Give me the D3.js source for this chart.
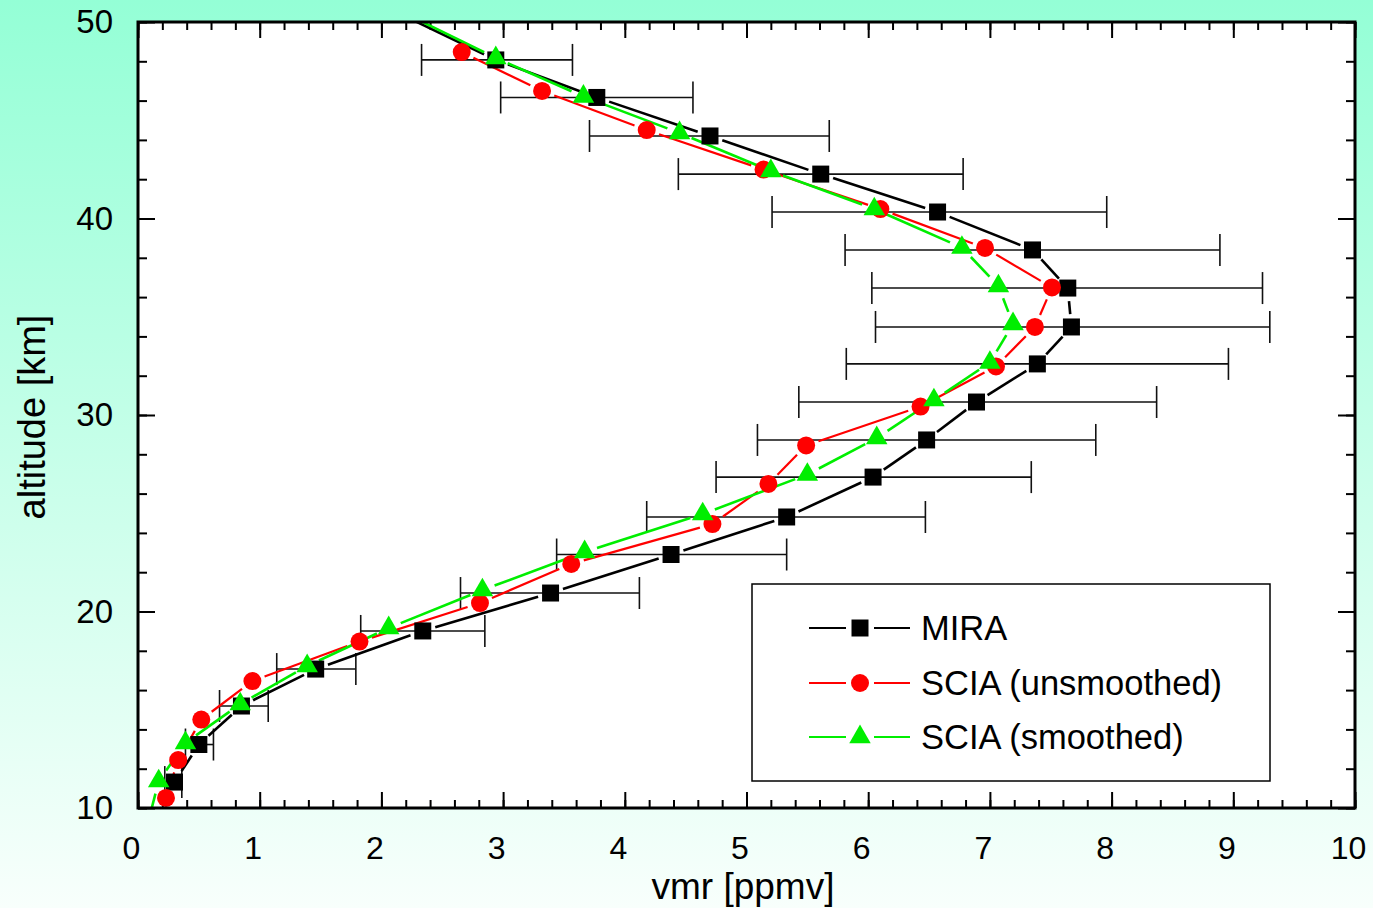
<!DOCTYPE html>
<meta charset="utf-8">
<head>
<title>MIRA vs SCIA profile</title>
<script src="https://cdn.jsdelivr.net/npm/d3@7"></script>
<style>
  body { margin: 0; }
  text { font-family: "Liberation Sans", Arial, sans-serif; fill: #000; }
  .axis path { display: none; }
  .axis line { stroke: #000; stroke-width: 2; }
</style>
</head>
<body>
<div id="chart"></div>
<script>
// MIRA profile with error range (vmr in ppmv, altitude in km)
// the point above 50 km only carries the line out of the frame
var miraAlt = [52.0, 48.07, 46.16, 44.20, 42.26, 40.33, 38.40, 36.46, 34.48, 32.60, 30.66,
               28.73, 26.84, 24.81, 22.90, 20.94, 19.01, 17.07, 15.19, 13.23, 11.32];
var miraVmr = [1.62, 2.94, 3.77, 4.70, 5.61, 6.57, 7.35, 7.64, 7.67, 7.39, 6.89,
               6.48, 6.04, 5.33, 4.38, 3.39, 2.34, 1.46, 0.85, 0.50, 0.30];
var miraLo  = [null, 2.33, 2.98, 3.71, 4.44, 5.21, 5.81, 6.03, 6.06, 5.82, 5.43,
               5.09, 4.75, 4.18, 3.44, 2.65, 1.83, 1.14, 0.67, 0.39, 0.22];
var miraHi  = [null, 3.57, 4.56, 5.68, 6.78, 7.96, 8.89, 9.24, 9.30, 8.96, 8.37,
               7.87, 7.34, 6.47, 5.33, 4.12, 2.85, 1.79, 1.07, 0.62, 0.36];

// SCIA unsmoothed
var sciaAlt = [48.47, 46.49, 44.50, 42.49, 40.48, 38.50, 36.49, 34.48, 32.47, 30.43,
               28.45, 26.49, 24.45, 22.42, 20.43, 18.47, 16.46, 14.50, 12.44, 10.51];
var sciaVmr = [2.66, 3.32, 4.18, 5.14, 6.10, 6.96, 7.51, 7.37, 7.05, 6.43,
               5.49, 5.18, 4.72, 3.56, 2.81, 1.82, 0.94, 0.52, 0.33, 0.23];

// SCIA smoothed (end points outside the frame)
var smoAlt = [52.0, 48.17, 46.21, 44.35, 42.42, 40.48, 38.52, 36.56, 34.63, 32.67, 30.76,
              28.83, 26.97, 24.96, 23.03, 21.09, 19.16, 17.23, 15.29, 13.31, 11.37, 9.2];
var smoVmr = [1.68, 2.94, 3.66, 4.45, 5.20, 6.05, 6.77, 7.07, 7.19, 7.00, 6.54,
              6.07, 5.50, 4.64, 3.67, 2.83, 2.06, 1.39, 0.84, 0.39, 0.17, 0.08];

var legendNames = ["MIRA", "SCIA (unsmoothed)", "SCIA (smoothed)"];

var W = 1373, H = 908;
var x0 = 138, x1 = 1355, yTop = 22, yBot = 808;

var svg = d3.select("#chart").append("svg")
    .attr("width", W).attr("height", H);

var defs = svg.append("defs");
var grad = defs.append("linearGradient").attr("id", "bg")
    .attr("x1", 0).attr("y1", 0).attr("x2", 0).attr("y2", 1);
grad.append("stop").attr("offset", "0%").attr("stop-color", "#94ffd6");
grad.append("stop").attr("offset", "100%").attr("stop-color", "#f8fffc");
defs.append("clipPath").attr("id", "clip").append("rect")
    .attr("x", x0).attr("y", yTop).attr("width", x1 - x0).attr("height", yBot - yTop);

svg.append("rect").attr("width", W).attr("height", H).attr("fill", "url(#bg)");
svg.append("rect").attr("x", x0).attr("y", yTop)
    .attr("width", x1 - x0).attr("height", yBot - yTop).attr("fill", "#fff");

var x = d3.scaleLinear().domain([0, 10]).range([x0, x1]);
var y = d3.scaleLinear().domain([10, 50]).range([yBot, yTop]);

var xMinor = d3.range(0, 10.001, 0.2), xMajor = d3.range(0, 11, 1);
var yMinor = d3.range(10, 50.001, 2), yMajor = [10, 20, 30, 40, 50];

// ticks point inwards on all four sides
function ticks(axisFn, scale, vals, size, tr) {
  return svg.append("g").attr("class", "axis").attr("transform", tr)
    .call(axisFn(scale).tickValues(vals).tickSize(-size).tickFormat(""));
}
ticks(d3.axisBottom, x, xMinor, 8, "translate(0," + yBot + ")");
ticks(d3.axisTop, x, xMinor, 8, "translate(0," + yTop + ")");
ticks(d3.axisTop, x, xMajor, 16, "translate(0," + yTop + ")");
ticks(d3.axisLeft, y, yMinor, 9, "translate(" + x0 + ",0)");
ticks(d3.axisRight, y, yMinor, 9, "translate(" + x1 + ",0)");
ticks(d3.axisRight, y, yMajor, 17, "translate(" + x1 + ",0)");

svg.append("g").attr("class", "axis").attr("transform", "translate(0," + yBot + ")")
    .call(d3.axisBottom(x).tickValues(xMajor).tickSize(-16).tickPadding(28).tickFormat(d3.format("d")))
    .selectAll("text").attr("font-size", 32).attr("dx", -7)
    .style("font-family", '"Liberation Sans", Arial, sans-serif');
svg.append("g").attr("class", "axis").attr("transform", "translate(" + x0 + ",0)")
    .call(d3.axisLeft(y).tickValues(yMajor).tickSize(-17).tickPadding(25).tickFormat(d3.format("d")))
    .selectAll("text").attr("font-size", 33)
    .style("font-family", '"Liberation Sans", Arial, sans-serif');

svg.append("text").attr("x", 743).attr("y", 899).attr("text-anchor", "middle")
    .attr("font-size", 37).text("vmr [ppmv]");
svg.append("text").attr("transform", "translate(45,417) rotate(-90)")
    .attr("text-anchor", "middle").attr("font-size", 38).text("altitude [km]");

var plot = svg.append("g").attr("clip-path", "url(#clip)");

// error bars for MIRA
var cap = 16;
miraAlt.forEach(function(a, i) {
  if (miraLo[i] == null) return;
  var g = plot.append("g").attr("stroke", "#111").attr("stroke-width", 1.6);
  g.append("line").attr("x1", x(miraLo[i])).attr("x2", x(miraHi[i]))
      .attr("y1", y(a)).attr("y2", y(a));
  [miraLo[i], miraHi[i]].forEach(function(v) {
    g.append("line").attr("x1", x(v)).attr("x2", x(v))
        .attr("y1", y(a) - cap).attr("y2", y(a) + cap);
  });
});

// line segments stop short of the symbols
function gapped(vals, alts, gap) {
  var segs = [];
  for (var i = 0; i < vals.length - 1; i++) {
    var ax = x(vals[i]), ay = y(alts[i]), bx = x(vals[i + 1]), by = y(alts[i + 1]);
    var dx = bx - ax, dy = by - ay, len = Math.sqrt(dx * dx + dy * dy);
    if (len <= 2 * gap) continue;
    segs.push([ax + dx / len * gap, ay + dy / len * gap, bx - dx / len * gap, by - dy / len * gap]);
  }
  return segs;
}
function drawLine(vals, alts, color, w) {
  plot.append("g").selectAll("line").data(gapped(vals, alts, 13)).enter().append("line")
      .attr("x1", function(d) { return d[0]; }).attr("y1", function(d) { return d[1]; })
      .attr("x2", function(d) { return d[2]; }).attr("y2", function(d) { return d[3]; })
      .attr("stroke", color).attr("stroke-width", w);
}
drawLine(miraVmr, miraAlt, "#000", 2.6);
drawLine(sciaVmr, sciaAlt, "#ff0000", 2.2);
drawLine(smoVmr, smoAlt, "#00ee00", 2.6);

var symSquare = d3.symbol().type(d3.symbolSquare).size(289);
var symCircle = d3.symbol().type(d3.symbolCircle).size(254);
var symTri = d3.symbol().type(d3.symbolTriangle).size(200);

function drawMarks(vals, alts, sym, color) {
  plot.append("g").selectAll("path").data(vals).enter().append("path")
      .attr("d", sym)
      .attr("transform", function(d, i) { return "translate(" + x(d) + "," + y(alts[i]) + ")"; })
      .attr("fill", color);
}
drawMarks(miraVmr, miraAlt, symSquare, "#000");
drawMarks(sciaVmr, sciaAlt, symCircle, "#ff0000");
drawMarks(smoVmr, smoAlt, symTri, "#00ee00");

// frame
svg.append("rect").attr("x", x0).attr("y", yTop)
    .attr("width", x1 - x0).attr("height", yBot - yTop)
    .attr("fill", "none").attr("stroke", "#000").attr("stroke-width", 3);

// legend
var leg = svg.append("g");
leg.append("rect").attr("x", 752).attr("y", 584).attr("width", 518).attr("height", 197)
    .attr("fill", "#fff").attr("stroke", "#000").attr("stroke-width", 1.5);
var legColors = ["#000", "#ff0000", "#00ee00"];
var legSyms = [symSquare, symCircle, symTri];
var legY = [628, 683, 737];
legendNames.forEach(function(name, i) {
  var g = leg.append("g");
  g.append("line").attr("x1", 809).attr("x2", 846).attr("y1", legY[i]).attr("y2", legY[i])
      .attr("stroke", legColors[i]).attr("stroke-width", 2);
  g.append("line").attr("x1", 874).attr("x2", 910).attr("y1", legY[i]).attr("y2", legY[i])
      .attr("stroke", legColors[i]).attr("stroke-width", 2);
  g.append("path").attr("d", legSyms[i]).attr("fill", legColors[i])
      .attr("transform", "translate(860," + legY[i] + ")");
  g.append("text").attr("x", 921).attr("y", legY[i] + 12).attr("font-size", 34.5).text(name);
});
</script>
</body>
</html>
